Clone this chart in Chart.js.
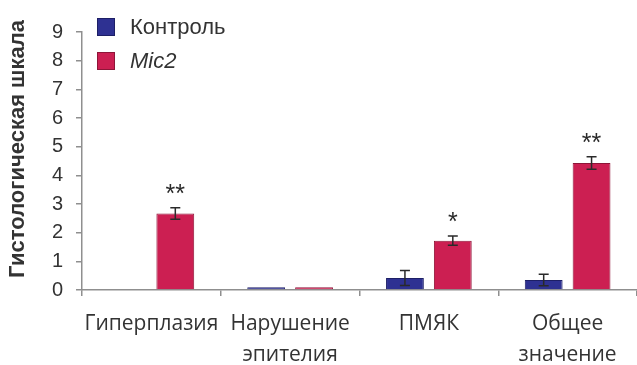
<!DOCTYPE html>
<html>
<head>
<meta charset="utf-8">
<script src="https://cdn.jsdelivr.net/npm/chart.js@4"></script>
<style>
  html, body { margin: 0; padding: 0; background: #fff; }
  #wrap { width: 637px; height: 365px; }
</style>
</head>
<body>
<div id="wrap"><canvas id="c" width="637" height="365"></canvas></div>
<script>
// Histological scores, control vs Mic2, per category
const categories = [['Гиперплазия'], ['Нарушение', 'эпителия'], ['ПМЯК'], ['Общее', 'значение']];
const seriesNames = ['Контроль', 'Mic2'];
const controlValues = [0, 0.1, 0.42, 0.35];
const controlErrors = [0, 0, 0.26, 0.2];
const mic2Values = [2.67, 0.1, 1.72, 4.43];
const mic2Errors = [0.2, 0, 0.16, 0.22];
const significance = ['**', '', '*', '**'];
const yTicks = [0, 1, 2, 3, 4, 5, 6, 7, 8, 9];

const BLUE = '#2e3192';
const RED = '#cc1f52';
const AXIS = '#8f8f8f';
const TEXT = '#333333';

const errorData = [controlErrors, mic2Errors];

// Error bars and significance marks drawn on top of the bars
const errorBarPlugin = {
  id: 'errorBars',
  afterDatasetsDraw(chart) {
    const ctx = chart.ctx;
    const y = chart.scales.y;
    ctx.save();
    chart.data.datasets.forEach((ds, di) => {
      const meta = chart.getDatasetMeta(di);
      meta.data.forEach((bar, i) => {
        const v = ds.data[i];
        const e = errorData[di][i];
        if (!e) return;
        const top = y.getPixelForValue(v + e);
        const bot = y.getPixelForValue(v - e);
        ctx.strokeStyle = '#2a2a2a';
        ctx.lineWidth = 1.5;
        ctx.beginPath();
        ctx.moveTo(bar.x, top); ctx.lineTo(bar.x, bot);
        ctx.moveTo(bar.x - 5, top); ctx.lineTo(bar.x + 5, top);
        ctx.moveTo(bar.x - 5, bot); ctx.lineTo(bar.x + 5, bot);
        ctx.stroke();
      });
    });
    // significance marks above the Mic2 bars
    const meta = chart.getDatasetMeta(1);
    ctx.fillStyle = '#2a2a2a';
    ctx.font = '25px "Liberation Sans", Arial, sans-serif';
    ctx.textAlign = 'center';
    ctx.textBaseline = 'middle';
    meta.data.forEach((bar, i) => {
      if (!significance[i]) return;
      const top = y.getPixelForValue(mic2Values[i] + mic2Errors[i]);
      ctx.fillText(significance[i], bar.x, top - 13);
    });
    ctx.restore();
  }
};

// Legend in the upper-left corner of the plot and the rotated axis title
const decorPlugin = {
  id: 'decor',
  afterDraw(chart) {
    const ctx = chart.ctx;
    ctx.save();
    const items = [
      { color: BLUE, border: '#1d1f66', text: seriesNames[0], italic: false, y: 27 },
      { color: RED, border: '#8e1538', text: seriesNames[1], italic: true, y: 61 }
    ];
    items.forEach(it => {
      ctx.fillStyle = it.color;
      ctx.fillRect(97, it.y - 9, 18, 18);
      ctx.strokeStyle = it.border;
      ctx.lineWidth = 1;
      ctx.strokeRect(97.5, it.y - 8.5, 17, 17);
      ctx.fillStyle = TEXT;
      ctx.font = (it.italic ? 'italic ' : '') + '22px "Liberation Sans", Arial, sans-serif';
      ctx.textAlign = 'left';
      ctx.textBaseline = 'middle';
      ctx.fillText(it.text, 130, it.y + 1);
    });
    ctx.translate(18, 149);
    ctx.rotate(-Math.PI / 2);
    ctx.fillStyle = TEXT;
    ctx.font = 'bold 22px "Liberation Sans", Arial, sans-serif';
    ctx.textAlign = 'center';
    ctx.textBaseline = 'middle';
    ctx.fillText('Гистологическая шкала', 0, 0);
    ctx.restore();
  }
};

new Chart(document.getElementById('c'), {
  type: 'bar',
  data: {
    labels: categories,
    datasets: [
      { label: seriesNames[0], data: controlValues, backgroundColor: BLUE, borderColor: '#1d1f66', borderWidth: 1 },
      { label: seriesNames[1], data: mic2Values, backgroundColor: RED, borderColor: '#8e1538', borderWidth: 1 }
    ]
  },
  options: {
    responsive: false,
    animation: false,
    events: [],
    layout: { padding: { top: 32, right: 0, left: 0, bottom: 0 } },
    datasets: { bar: { categoryPercentage: 0.69, barPercentage: 0.79 } },
    plugins: { legend: { display: false }, tooltip: { enabled: false } },
    scales: {
      x: {
        offset: true,
        grid: { offset: true, drawOnChartArea: false, drawTicks: true, tickLength: 6, color: AXIS, lineWidth: 1.5 },
        border: { display: true, color: AXIS, width: 1.5 },
        ticks: {
          color: TEXT,
          padding: 13,
          maxRotation: 0,
          autoSkip: false,
          font: { family: '"Open Sans", sans-serif', size: 21, lineHeight: 1.45 }
        },
        afterFit(s) { s.height = 75; }
      },
      y: {
        min: 0,
        max: 9,
        afterBuildTicks(s) { s.ticks = yTicks.map(v => ({ value: v })); },
        grid: { drawOnChartArea: false, drawTicks: true, tickLength: 6, color: AXIS, lineWidth: 1.5 },
        border: { display: true, color: AXIS, width: 1.5 },
        ticks: {
          color: TEXT,
          padding: 13,
          font: { family: '"Liberation Sans", Arial, sans-serif', size: 20 }
        },
        afterFit(s) { s.width = 82; }
      }
    }
  },
  plugins: [errorBarPlugin, decorPlugin]
});
</script>
</body>
</html>
